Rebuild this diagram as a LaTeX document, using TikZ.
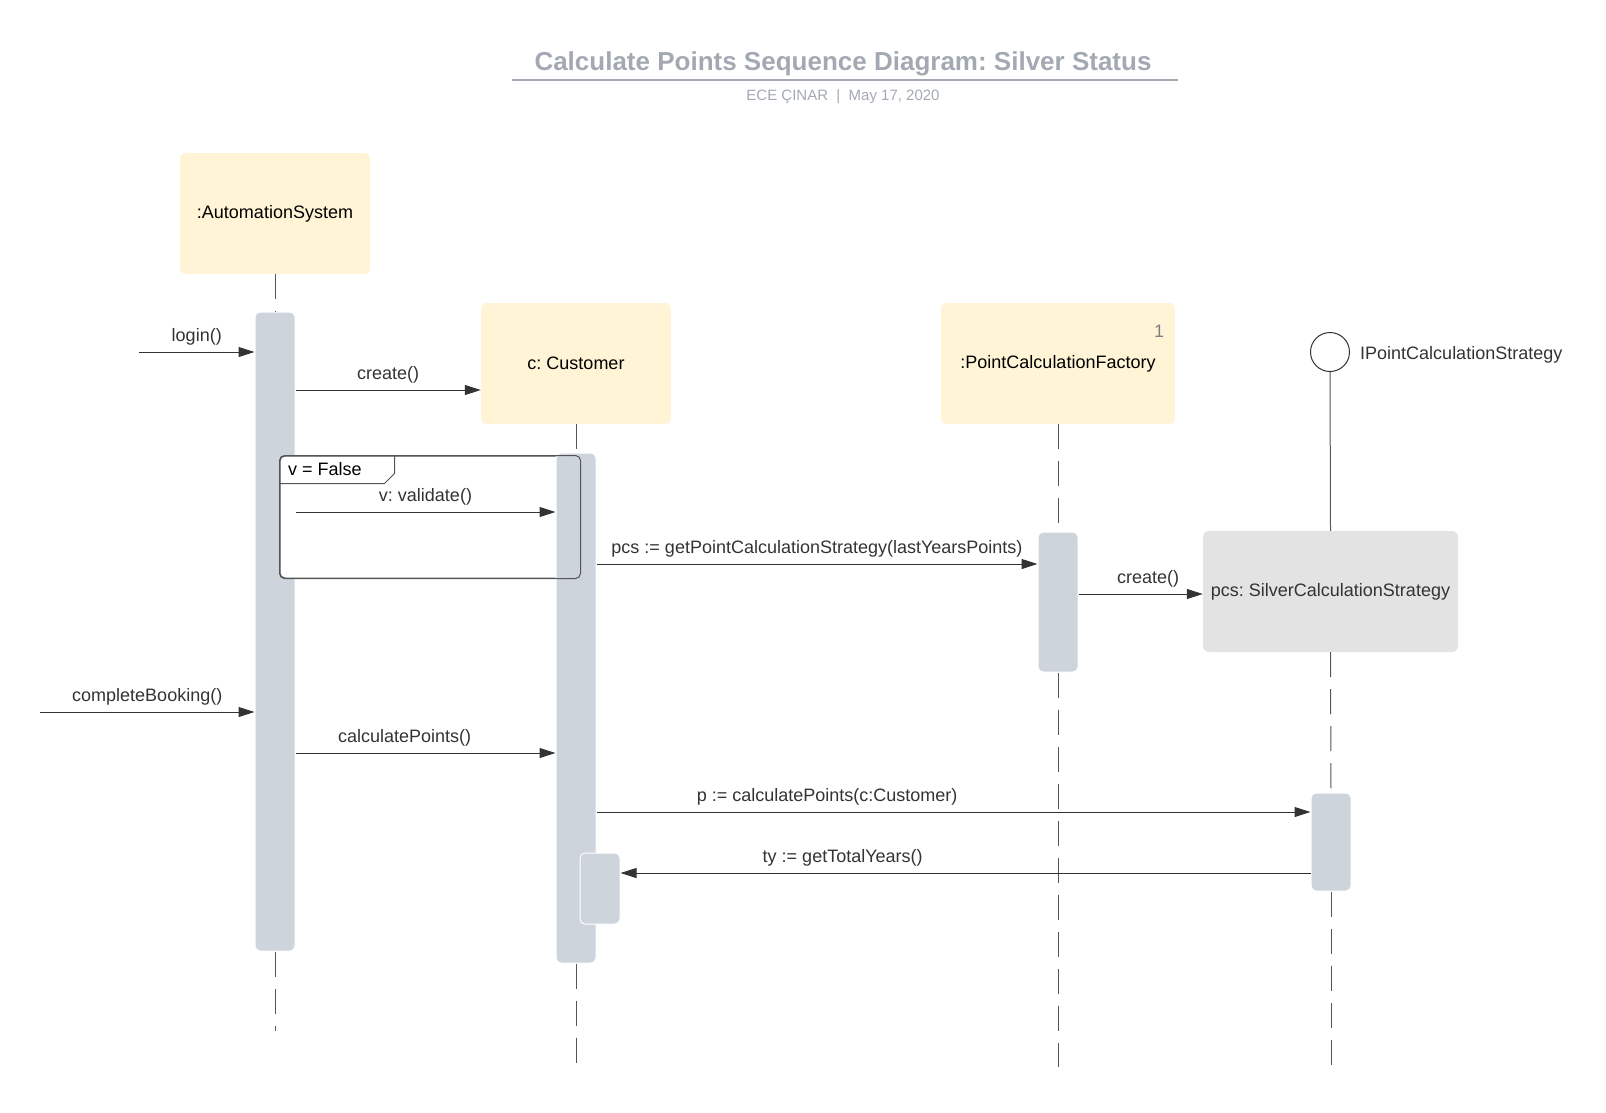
\documentclass[tikz,border=0pt]{standalone}
\usepackage{fontspec}
\setmainfont{Liberation Sans}
\usetikzlibrary{arrows.meta}
\frenchspacing

\definecolor{lifeyellow}{HTML}{FFF4D6}
\definecolor{barfill}{HTML}{CED4DC}
\definecolor{strategygray}{HTML}{E3E3E3}
\definecolor{titlegray}{HTML}{A3A9B3}
\definecolor{inkgray}{HTML}{333333}
\definecolor{lifegray}{HTML}{555555}

\tikzset{
  participant/.style={fill=lifeyellow, rounded corners=6pt, minimum height=121pt, inner sep=0pt, font=\fontsize{18}{21}\selectfont},
  activation/.style={fill=barfill, draw=white, line width=1pt, rounded corners=5pt, minimum width=40pt, inner sep=0pt},
  lifeline/.style={draw=lifegray, line width=1pt, dash pattern=on 25pt off 12pt},
  msg/.style={draw=inkgray, line width=1pt, -{Triangle[length=16pt,width=10pt]}},
  msglabel/.style={text=inkgray, inner sep=0pt, yshift=15.5pt, font=\fontsize{18}{21}\selectfont},
  framebox/.style={draw=lifegray, line width=1pt, rounded corners=5pt},
}

\begin{document}
\begin{tikzpicture}[x=1pt, y=-1pt]
    \useasboundingbox (0,0) rectangle (1606,1112);

    % title
    \node[text=titlegray, font=\bfseries\fontsize{26}{30}\selectfont] (title) at (843,63.5) {Calculate Points Sequence Diagram: Silver Status};
    \draw[titlegray, line width=1.2pt] (512,80) -- (1178,80);
    \node[text=titlegray, font=\fontsize{15}{18}\selectfont] (byline) at (843,96.5) {ECE ÇINAR~~|~~May 17, 2020};

    % participants
    \node[participant, minimum width=190pt] (auto) at (275,213.5) {:AutomationSystem};
    \node[participant, minimum width=190pt] (cust) at (576,363.5) {c: Customer};
    \node[participant, minimum width=234pt] (factory) at (1058,363.5) {:PointCalculationFactory};
    \node[text=gray, inner sep=0pt, font=\fontsize{18}{21}\selectfont] (factorycount) at (1159,331) {1};
    \node[participant, fill=strategygray, text=inkgray, minimum width=255pt] (scs) at (1330.5,591.5) {pcs: SilverCalculationStrategy};
    \node[draw=inkgray, line width=1pt, circle, minimum size=39pt, inner sep=0pt] (iface) at (1330,352) {};
    \node[anchor=west, text=inkgray, inner sep=0pt, font=\fontsize{18}{21}\selectfont] (ifacelabel) at (1360,355) {IPointCalculationStrategy};

    % activations
    \node[activation, minimum height=639pt] (autobar) at (275,631.5) {};
    \node[framebox, fill=white, minimum width=300pt, minimum height=122pt] (altframe) at (430,517) {};
    \node[activation, minimum height=510pt] (custbar) at (576,708) {};
    \node[activation, minimum height=71pt] (custsub) at (600,888.5) {};
    \node[activation, minimum height=140pt] (factorybar) at (1058,602) {};
    \node[activation, minimum height=98pt] (scsbar) at (1331,842) {};

    % alt frame
    \draw[framebox] (altframe.south west) rectangle (altframe.north east);
    \draw[framebox, rounded corners=0pt] ([yshift=-28pt]altframe.north west) -- ++(105,0) -- ++(10,-10) -- ([xshift=115pt]altframe.north west);
    \node[anchor=west, inner sep=0pt, font=\fontsize{18}{21}\selectfont] (altlabel) at (288,469) {v = False};

    % lifelines
    \coordinate (autoend) at (275,1031);
    \coordinate (custend) at (576,1063);
    \coordinate (factoryend) at (1058,1067);
    \coordinate (scsend) at (1331,1072);
    \draw[lifeline] (auto.south) -- (autobar.north);
    \draw[lifeline] (autobar.south) -- (autoend);
    \draw[lifeline] (cust.south) -- (custbar.north);
    \draw[lifeline] (custbar.south) -- (custend);
    \draw[lifeline] (factory.south) -- (factorybar.north);
    \draw[lifeline] (factorybar.south) -- (factoryend);
    \draw[lifeline] (scs.south) -- (scsbar.north);
    \draw[lifeline] (scsbar.south) -- (scsend);
    \draw[draw=lifegray, line width=1pt] (iface.south) -- (scs.north);

    % messages
    \coordinate (loginsrc) at (139,352);
    \coordinate (bookingsrc) at (40,712);
    \draw[msg] (loginsrc) -- (autobar.west |- loginsrc) node[msglabel, midway] {login()};
    \draw[msg] (autobar.east |- 0,390) -- (cust.west |- 0,390) node[msglabel, midway] {create()};
    \draw[msg] (autobar.east |- 0,512) -- (custbar.west |- 0,512) node[msglabel, midway] {v: validate()};
    \draw[msg] (custbar.east |- 0,564) -- (factorybar.west |- 0,564) node[msglabel, midway] {pcs := getPointCalculationStrategy(lastYearsPoints)};
    \draw[msg] (factorybar.east |- 0,594) -- (scs.west |- 0,594) node[msglabel, pos=.56] {create()};
    \draw[msg] (bookingsrc) -- (autobar.west |- bookingsrc) node[msglabel, midway] {completeBooking()};
    \draw[msg] (autobar.east |- 0,753) -- (custbar.west |- 0,753) node[msglabel, pos=.42] {calculatePoints()};
    \draw[msg] (custbar.east |- 0,812) -- (scsbar.west |- 0,812) node[msglabel, pos=.323] {p := calculatePoints(c:Customer)};
    \draw[msg] (scsbar.west |- 0,873) -- (custsub.east |- 0,873) node[msglabel, pos=.678] {ty := getTotalYears()};
\end{tikzpicture}
\end{document}
